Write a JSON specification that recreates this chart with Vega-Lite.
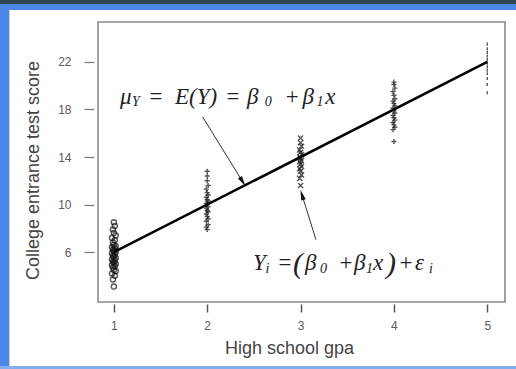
{
  "$schema": "https://vega.github.io/schema/vega-lite/v6.json",
  "width": 407,
  "height": 280,
  "autosize": {"type": "none"},
  "padding": {"left": 98, "top": 22, "right": 11, "bottom": 67},
  "background": "#4a86e8",
  "config": {
    "view": {"stroke": null},
    "font": "Liberation Sans"
  },
  "datasets": {
    "obs": [
      {"level": 1, "gpa": 1.0, "score": 3.1}, {"level": 1, "gpa": 0.99, "score": 3.7}, {"level": 1, "gpa": 1.01, "score": 4.0}, {"level": 1, "gpa": 0.98, "score": 4.2}, {"level": 1, "gpa": 1.02, "score": 4.4},
      {"level": 1, "gpa": 1.0, "score": 4.5}, {"level": 1, "gpa": 0.99, "score": 4.7}, {"level": 1, "gpa": 1.01, "score": 4.8}, {"level": 1, "gpa": 0.98, "score": 4.9}, {"level": 1, "gpa": 1.02, "score": 5.0},
      {"level": 1, "gpa": 1.0, "score": 5.1}, {"level": 1, "gpa": 0.99, "score": 5.2}, {"level": 1, "gpa": 1.01, "score": 5.3}, {"level": 1, "gpa": 0.98, "score": 5.4}, {"level": 1, "gpa": 1.02, "score": 5.5},
      {"level": 1, "gpa": 1.0, "score": 5.6}, {"level": 1, "gpa": 0.99, "score": 5.7}, {"level": 1, "gpa": 1.01, "score": 5.8}, {"level": 1, "gpa": 0.98, "score": 5.9}, {"level": 1, "gpa": 1.02, "score": 6.0},
      {"level": 1, "gpa": 1.0, "score": 6.1}, {"level": 1, "gpa": 0.99, "score": 6.2}, {"level": 1, "gpa": 1.01, "score": 6.3}, {"level": 1, "gpa": 0.98, "score": 6.4}, {"level": 1, "gpa": 1.02, "score": 6.5},
      {"level": 1, "gpa": 1.0, "score": 6.6}, {"level": 1, "gpa": 0.99, "score": 6.8}, {"level": 1, "gpa": 1.01, "score": 7.0}, {"level": 1, "gpa": 0.98, "score": 7.2}, {"level": 1, "gpa": 1.02, "score": 7.4},
      {"level": 1, "gpa": 1.0, "score": 7.6}, {"level": 1, "gpa": 0.99, "score": 7.9}, {"level": 1, "gpa": 1.01, "score": 8.2}, {"level": 1, "gpa": 1.0, "score": 8.5},
      {"level": 2, "gpa": 2.0, "score": 7.9}, {"level": 2, "gpa": 1.99, "score": 8.1}, {"level": 2, "gpa": 2.01, "score": 8.3}, {"level": 2, "gpa": 1.99, "score": 8.6}, {"level": 2, "gpa": 2.01, "score": 8.8},
      {"level": 2, "gpa": 2.0, "score": 9.0}, {"level": 2, "gpa": 1.99, "score": 9.2}, {"level": 2, "gpa": 2.01, "score": 9.4}, {"level": 2, "gpa": 2.0, "score": 9.5}, {"level": 2, "gpa": 1.99, "score": 9.7},
      {"level": 2, "gpa": 2.01, "score": 9.8}, {"level": 2, "gpa": 2.0, "score": 10.0}, {"level": 2, "gpa": 1.99, "score": 10.1}, {"level": 2, "gpa": 2.01, "score": 10.3}, {"level": 2, "gpa": 2.0, "score": 10.4},
      {"level": 2, "gpa": 1.99, "score": 10.6}, {"level": 2, "gpa": 2.01, "score": 10.8}, {"level": 2, "gpa": 2.0, "score": 11.0}, {"level": 2, "gpa": 1.99, "score": 11.3}, {"level": 2, "gpa": 2.01, "score": 11.6},
      {"level": 2, "gpa": 2.0, "score": 12.0}, {"level": 2, "gpa": 2.0, "score": 12.4}, {"level": 2, "gpa": 2.0, "score": 12.8},
      {"level": 3, "gpa": 3.0, "score": 11.6}, {"level": 3, "gpa": 2.99, "score": 12.2}, {"level": 3, "gpa": 3.01, "score": 12.5}, {"level": 3, "gpa": 3.0, "score": 12.8}, {"level": 3, "gpa": 2.99, "score": 13.0},
      {"level": 3, "gpa": 3.01, "score": 13.2}, {"level": 3, "gpa": 3.0, "score": 13.4}, {"level": 3, "gpa": 2.99, "score": 13.6}, {"level": 3, "gpa": 3.01, "score": 13.7}, {"level": 3, "gpa": 3.0, "score": 13.9},
      {"level": 3, "gpa": 2.99, "score": 14.0}, {"level": 3, "gpa": 3.01, "score": 14.2}, {"level": 3, "gpa": 3.0, "score": 14.4}, {"level": 3, "gpa": 2.99, "score": 14.6}, {"level": 3, "gpa": 3.01, "score": 14.9},
      {"level": 3, "gpa": 3.0, "score": 15.2}, {"level": 3, "gpa": 3.0, "score": 15.6},
      {"level": 4, "gpa": 4.0, "score": 15.3}, {"level": 4, "gpa": 3.99, "score": 16.3}, {"level": 4, "gpa": 4.01, "score": 16.5}, {"level": 4, "gpa": 4.0, "score": 16.7}, {"level": 4, "gpa": 3.99, "score": 16.9},
      {"level": 4, "gpa": 4.01, "score": 17.1}, {"level": 4, "gpa": 4.0, "score": 17.3}, {"level": 4, "gpa": 3.99, "score": 17.5}, {"level": 4, "gpa": 4.01, "score": 17.7}, {"level": 4, "gpa": 4.0, "score": 17.9},
      {"level": 4, "gpa": 3.99, "score": 18.1}, {"level": 4, "gpa": 4.01, "score": 18.3}, {"level": 4, "gpa": 4.0, "score": 18.5}, {"level": 4, "gpa": 3.99, "score": 18.7}, {"level": 4, "gpa": 4.01, "score": 18.9},
      {"level": 4, "gpa": 4.0, "score": 19.2}, {"level": 4, "gpa": 3.99, "score": 19.5}, {"level": 4, "gpa": 4.01, "score": 19.8}, {"level": 4, "gpa": 4.0, "score": 20.1}, {"level": 4, "gpa": 4.0, "score": 20.3},
      {"level": 5, "gpa": 5.0, "score": 19.4}, {"level": 5, "gpa": 5.0, "score": 20.1}, {"level": 5, "gpa": 5.0, "score": 20.6}, {"level": 5, "gpa": 5.0, "score": 21.0}, {"level": 5, "gpa": 5.0, "score": 21.3},
      {"level": 5, "gpa": 5.0, "score": 21.6}, {"level": 5, "gpa": 5.0, "score": 21.9}, {"level": 5, "gpa": 5.0, "score": 22.2}, {"level": 5, "gpa": 5.0, "score": 22.5}, {"level": 5, "gpa": 5.0, "score": 22.8},
      {"level": 5, "gpa": 5.0, "score": 23.1}, {"level": 5, "gpa": 5.0, "score": 23.5}
    ],
    "fit": [
      {"gpa": 1, "score": 6},
      {"gpa": 5, "score": 22}
    ],
    "arrows": [
      {"gpa": 1.95, "score": 17.38, "gpa2": 2.38, "score2": 11.92, "dir": 148},
      {"gpa": 3.165, "score": 7.04, "gpa2": 3.015, "score2": 10.82, "dir": 343}
    ],
    "math": [
      {"label": "μ", "gpa": 1.066, "score": 19.05},
      {"label": "=", "gpa": 1.366, "score": 19.05},
      {"label": "E(Y)", "gpa": 1.655, "score": 19.05},
      {"label": "=", "gpa": 2.19, "score": 19.05},
      {"label": "β", "gpa": 2.426, "score": 19.05},
      {"label": "+", "gpa": 2.826, "score": 19.05},
      {"label": "β", "gpa": 3.02, "score": 19.05},
      {"label": "x", "gpa": 3.265, "score": 19.05},
      {"label": "Y", "gpa": 2.49, "score": 5.08},
      {"label": "=", "gpa": 2.747, "score": 5.08},
      {"label": "β", "gpa": 3.047, "score": 5.08},
      {"label": "+", "gpa": 3.401, "score": 5.08},
      {"label": "β", "gpa": 3.572, "score": 5.08},
      {"label": "x", "gpa": 3.776, "score": 5.08},
      {"label": "+", "gpa": 4.044, "score": 5.08},
      {"label": "ε", "gpa": 4.226, "score": 5.08}
    ],
    "mathsub": [
      {"label": "Y", "gpa": 1.194, "score": 18.6},
      {"label": "0", "gpa": 2.615, "score": 18.6},
      {"label": "1", "gpa": 3.17, "score": 18.6},
      {"label": "i", "gpa": 2.625, "score": 4.55},
      {"label": "0", "gpa": 3.208, "score": 4.55},
      {"label": "1", "gpa": 3.7, "score": 4.55},
      {"label": "i", "gpa": 4.376, "score": 4.55}
    ],
    "paren": [
      {"label": "(", "gpa": 2.92, "score": 5.0},
      {"label": ")", "gpa": 3.915, "score": 5.0}
    ]
  },
  "encoding": {
    "x": {"type": "quantitative"},
    "y": {"type": "quantitative"}
  },
  "layer": [
    {
      "data": {"values": [{}]},
      "mark": {"type": "rect", "color": "#ffffff", "clip": false},
      "encoding": {
        "x": {"datum": -0.12, "type": "quantitative", "scale": {"domain": [0.83, 5.19], "nice": false, "zero": false}},
        "x2": {"datum": 5.6},
        "y": {"datum": 26.37, "type": "quantitative", "scale": {"domain": [1.8, 25.36], "nice": false, "zero": false}},
        "y2": {"datum": -3.58}
      }
    },
    {
      "data": {"values": [{}]},
      "mark": {"type": "rect", "color": "#2f4552", "clip": false},
      "encoding": {
        "x": {"datum": -0.5, "type": "quantitative"},
        "x2": {"datum": 5.6},
        "y": {"datum": 26.87, "type": "quantitative"},
        "y2": {"datum": 27.6}
      }
    },
    {
      "data": {"values": [{}]},
      "mark": {"type": "rect", "color": "#84aef0", "clip": false},
      "encoding": {
        "x": {"datum": -0.5, "type": "quantitative"},
        "x2": {"datum": 5.6},
        "y": {"datum": -3.58, "type": "quantitative"},
        "y2": {"datum": -4.2}
      }
    },
    {
      "data": {"values": [{}]},
      "mark": {"type": "rect", "fill": null, "stroke": "#8a8a8a", "strokeWidth": 1.6, "clip": false},
      "encoding": {
        "x": {"datum": 0.83, "type": "quantitative"},
        "x2": {"datum": 5.19},
        "y": {"datum": 1.8, "type": "quantitative"},
        "y2": {"datum": 25.36}
      }
    },
    {
      "data": {"name": "obs"},
      "mark": {"type": "point", "filled": false, "strokeWidth": 1.4, "color": "#111111", "size": 26},
      "encoding": {
        "x": {
          "field": "gpa", "type": "quantitative",
          "axis": {
            "values": [1, 2, 3, 4, 5], "format": "d", "title": "High school gpa", "zindex": 1,
            "domain": false, "grid": false, "offset": 2, "tickSize": 8, "tickColor": "#555555", "tickWidth": 1.5,
            "labelPadding": 8, "labelFontSize": 12, "labelColor": "#5a5a5a", "labelFont": "Liberation Sans",
            "titleFontSize": 18, "titleColor": "#444444", "titleFontWeight": "normal", "titleFont": "Liberation Sans",
            "titleX": 191, "titleY": 44, "titleBaseline": "middle", "titleAnchor": null
          }
        },
        "y": {
          "field": "score", "type": "quantitative",
          "axis": {
            "values": [6, 10, 14, 18, 22], "title": "College entrance test score", "zindex": 1,
            "domain": false, "grid": false, "offset": 4, "tickSize": 10, "tickColor": "#777777", "tickWidth": 1.2,
            "labelPadding": 13, "labelFontSize": 12, "labelColor": "#5a5a5a", "labelFont": "Liberation Sans",
            "titleFontSize": 18, "titleColor": "#444444", "titleFontWeight": "normal", "titleFont": "Liberation Sans",
            "titleX": -61, "titleY": 148, "titleAngle": -90, "titleBaseline": "middle", "titleAnchor": null
          }
        },
        "shape": {
          "field": "level", "type": "nominal", "legend": null,
          "scale": {"domain": [1, 2, 3, 4, 5], "range": ["circle", "M-1,0L1,0M0,-1L0,1", "M-1,-1L1,1M-1,1L1,-1", "M-1,0L1,0M0,-1L0,1", "M0,-0.6L0,0.6"]}
        }
      }
    },
    {
      "data": {"name": "fit"},
      "mark": {"type": "line", "color": "#000000", "strokeWidth": 2.5},
      "encoding": {
        "x": {"field": "gpa", "type": "quantitative"},
        "y": {"field": "score", "type": "quantitative"}
      }
    },
    {
      "data": {"name": "arrows"},
      "mark": {"type": "rule", "color": "#333333", "strokeWidth": 1},
      "encoding": {
        "x": {"field": "gpa", "type": "quantitative"},
        "y": {"field": "score", "type": "quantitative"},
        "x2": {"field": "gpa2"},
        "y2": {"field": "score2"}
      }
    },
    {
      "data": {"name": "arrows"},
      "mark": {"type": "point", "filled": true, "color": "#111111", "size": 110, "shape": "M0,-1L0.45,1L-0.45,1Z", "opacity": 1},
      "encoding": {
        "x": {"field": "gpa2", "type": "quantitative"},
        "y": {"field": "score2", "type": "quantitative"},
        "angle": {"field": "dir", "type": "quantitative", "scale": null}
      }
    },
    {
      "data": {"name": "math"},
      "mark": {"type": "text", "align": "left", "baseline": "middle", "font": "Liberation Serif", "fontStyle": "italic", "fontSize": 23, "color": "#222222"},
      "encoding": {
        "x": {"field": "gpa", "type": "quantitative"},
        "y": {"field": "score", "type": "quantitative"},
        "text": {"field": "label"}
      }
    },
    {
      "data": {"name": "mathsub"},
      "mark": {"type": "text", "align": "left", "baseline": "middle", "font": "Liberation Serif", "fontStyle": "italic", "fontSize": 14, "color": "#222222"},
      "encoding": {
        "x": {"field": "gpa", "type": "quantitative"},
        "y": {"field": "score", "type": "quantitative"},
        "text": {"field": "label"}
      }
    },
    {
      "data": {"name": "paren"},
      "mark": {"type": "text", "align": "left", "baseline": "middle", "font": "Liberation Serif", "fontStyle": "italic", "fontSize": 30, "color": "#222222"},
      "encoding": {
        "x": {"field": "gpa", "type": "quantitative"},
        "y": {"field": "score", "type": "quantitative"},
        "text": {"field": "label"}
      }
    }
  ]
}
